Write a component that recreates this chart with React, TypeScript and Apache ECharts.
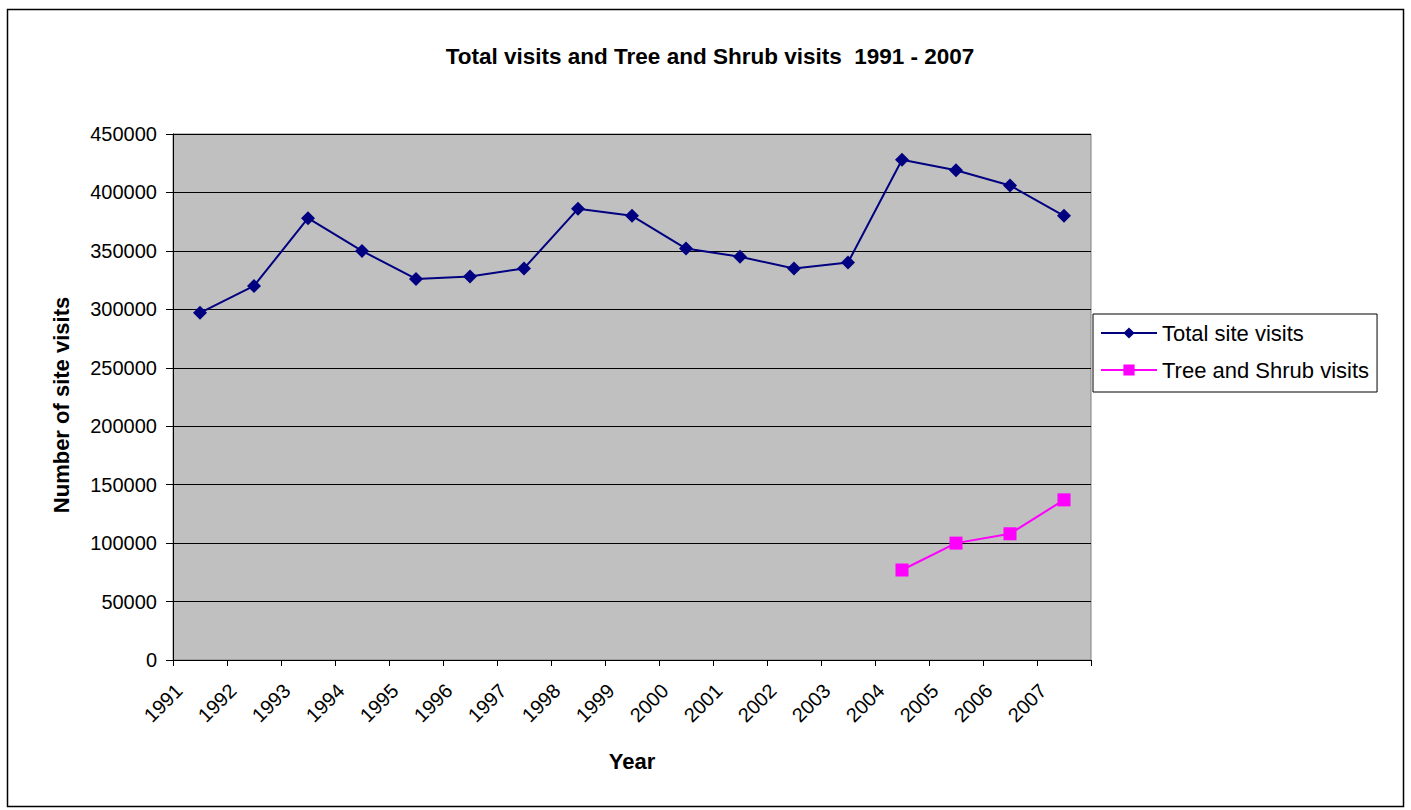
import React, { useEffect, useRef } from "react";
import * as echarts from "echarts";

const years = ["1991","1992","1993","1994","1995","1996","1997","1998","1999","2000","2001","2002","2003","2004","2005","2006","2007"];
const totalVisits = [297000, 320000, 378000, 350000, 326000, 328000, 335000, 386000, 380000, 352000, 345000, 335000, 340000, 428000, 419000, 406000, 380000];
const treeShrubVisits = [null, null, null, null, null, null, null, null, null, null, null, null, null, 77000, 100000, 108000, 137000];

const FONT = "'Liberation Sans', Arial, sans-serif";

export default function App() {
  const ref = useRef<HTMLDivElement>(null);
  useEffect(() => {
    if (!ref.current) return;
    const chart = echarts.init(ref.current, undefined, { renderer: "svg" });
    chart.setOption({
      animation: false,
      backgroundColor: "#ffffff",
      textStyle: { fontFamily: FONT },
      title: {
        text: "Total visits and Tree and Shrub visits  1991 - 2007",
        left: 705,
        textAlign: "center",
        top: 40,
        textStyle: { fontFamily: FONT, fontSize: 22.5, fontWeight: "bold", color: "#000" },
      },
      graphic: [
        {
          type: "rect",
          shape: { x: 7.5, y: 9.5, width: 1396, height: 797 },
          style: { fill: "none", stroke: "#000", lineWidth: 1.5 },
          silent: true,
        },
      ],
      legend: {
        orient: "vertical",
        left: 1093,
        top: 314,
        padding: [8, 8, 11, 7],
        backgroundColor: "#fff",
        borderColor: "#000",
        borderWidth: 1,
        itemWidth: 56,
        itemHeight: 14,
        itemGap: 15,
        textStyle: { fontFamily: FONT, fontSize: 22, lineHeight: 22, color: "#000" },
        data: ["Total site visits", "Tree and Shrub visits"],
      },
      grid: { left: 173, top: 134, right: 320, bottom: 150, show: true, backgroundColor: "#C0C0C0", borderColor: "#808080", borderWidth: 1 },
      xAxis: {
        type: "category",
        data: years,
        boundaryGap: true,
        name: "Year",
        nameLocation: "middle",
        nameGap: 90,
        nameTextStyle: { fontFamily: FONT, fontSize: 22, fontWeight: "bold", color: "#000" },
        axisLine: { lineStyle: { color: "#000", width: 1 } },
        axisTick: { show: true, length: 6, alignWithLabel: false, lineStyle: { color: "#000" } },
        axisLabel: { rotate: 45, fontFamily: FONT, fontSize: 20, color: "#000", margin: 6, interval: 0, padding: [0, 30, 0, 0] },
        splitLine: { show: false },
      },
      yAxis: {
        type: "value",
        min: 0,
        max: 450000,
        interval: 50000,
        name: "Number of site visits",
        nameLocation: "middle",
        nameGap: 101,
        nameTextStyle: { fontFamily: FONT, fontSize: 22, fontWeight: "bold", color: "#000", padding: [0, 16, 0, 0] },
        axisLine: { show: true, lineStyle: { color: "#000", width: 1 } },
        axisTick: { show: true, length: 7, lineStyle: { color: "#000" } },
        axisLabel: { fontFamily: FONT, fontSize: 20, color: "#000", margin: 16, formatter: (v: number) => String(v) },
        splitLine: { show: true, lineStyle: { color: "#000", width: 1 } },
      },
      series: [
        {
          name: "Total site visits",
          type: "line",
          data: totalVisits,
          symbol: "diamond",
          symbolSize: 14,
          color: "#000080",
          lineStyle: { color: "#000080", width: 2 },
          itemStyle: { color: "#000080" },
        },
        {
          name: "Tree and Shrub visits",
          type: "line",
          data: treeShrubVisits,
          symbol: "rect",
          symbolSize: 13,
          color: "#FF00FF",
          lineStyle: { color: "#FF00FF", width: 2 },
          itemStyle: { color: "#FF00FF" },
        },
      ],
    });
    return () => chart.dispose();
  }, []);
  return <div ref={ref} style={{ position: "absolute", left: 0, top: 0, width: 1411, height: 810 }} />;
}
